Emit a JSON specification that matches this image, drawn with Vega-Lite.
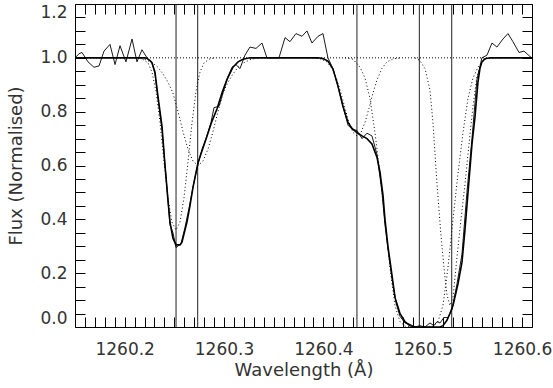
{
  "$schema": "https://vega.github.io/schema/vega-lite/v6.json",
  "width": 457,
  "height": 323,
  "autosize": {"type": "none"},
  "padding": {"left": 75, "top": 4, "right": 21, "bottom": 61},
  "background": "white",
  "config": {
    "view": {"stroke": null},
    "axis": {
      "labelFont": "DejaVu Sans", "titleFont": "DejaVu Sans",
      "labelFontSize": 17, "titleFontSize": 18, "titleFontWeight": "normal",
      "labelColor": "#333", "titleColor": "#333",
      "domainColor": "#000", "tickColor": "#000", "domainWidth": 1, "tickWidth": 1,
      "grid": false, "labelFlush": false, "labelOverlap": false
    }
  },
  "datasets": {
    "obs": [
      {"w":1260.1500,"f":1.0},{"w":1260.1540,"f":1.015},{"w":1260.1570,"f":1.02},{"w":1260.1631,"f":0.985},
      {"w":1260.1691,"f":0.965},{"w":1260.1742,"f":0.97},{"w":1260.1792,"f":1.025},{"w":1260.1852,"f":1.05},
      {"w":1260.1903,"f":0.975},{"w":1260.1953,"f":1.045},{"w":1260.2013,"f":0.985},{"w":1260.2074,"f":1.07},
      {"w":1260.2124,"f":0.985},{"w":1260.2174,"f":1.03},{"w":1260.2225,"f":1.0},{"w":1260.2275,"f":0.98},
      {"w":1260.2305,"f":0.94},{"w":1260.2335,"f":0.85},{"w":1260.2376,"f":0.73},{"w":1260.2416,"f":0.56},
      {"w":1260.2456,"f":0.38},{"w":1260.2486,"f":0.35},{"w":1260.2517,"f":0.295},{"w":1260.2567,"f":0.31},
      {"w":1260.2607,"f":0.37},{"w":1260.2647,"f":0.44},{"w":1260.2688,"f":0.52},{"w":1260.2728,"f":0.59},
      {"w":1260.2778,"f":0.66},{"w":1260.2819,"f":0.70},{"w":1260.2869,"f":0.76},{"w":1260.2899,"f":0.815},
      {"w":1260.2949,"f":0.82},{"w":1260.2990,"f":0.87},{"w":1260.3040,"f":0.93},{"w":1260.3080,"f":0.965},
      {"w":1260.3120,"f":0.975},{"w":1260.3161,"f":0.96},{"w":1260.3211,"f":1.01},{"w":1260.3261,"f":1.04},
      {"w":1260.3322,"f":1.035},{"w":1260.3382,"f":1.055},{"w":1260.3432,"f":1.0},{"w":1260.3493,"f":1.0},
      {"w":1260.3553,"f":1.0},{"w":1260.3614,"f":1.075},{"w":1260.3664,"f":1.06},{"w":1260.3724,"f":1.09},
      {"w":1260.3785,"f":1.08},{"w":1260.3835,"f":1.10},{"w":1260.3885,"f":1.055},{"w":1260.3946,"f":1.08},
      {"w":1260.3996,"f":1.09},{"w":1260.4046,"f":1.0},{"w":1260.4097,"f":0.96},{"w":1260.4147,"f":0.895},
      {"w":1260.4197,"f":0.82},{"w":1260.4248,"f":0.75},{"w":1260.4288,"f":0.735},{"w":1260.4338,"f":0.73},
      {"w":1260.4389,"f":0.70},{"w":1260.4439,"f":0.72},{"w":1260.4489,"f":0.71},{"w":1260.4540,"f":0.64},
      {"w":1260.4590,"f":0.50},{"w":1260.4620,"f":0.38},{"w":1260.4650,"f":0.29},{"w":1260.4691,"f":0.18},
      {"w":1260.4731,"f":0.09},{"w":1260.4771,"f":0.04},{"w":1260.4821,"f":0.015},{"w":1260.4872,"f":0.01},
      {"w":1260.4922,"f":0.0},{"w":1260.4972,"f":0.005},{"w":1260.5023,"f":0.0},{"w":1260.5073,"f":0.015},
      {"w":1260.5113,"f":0.005},{"w":1260.5144,"f":0.02},{"w":1260.5174,"f":0.015},{"w":1260.5214,"f":0.035},
      {"w":1260.5254,"f":0.035},{"w":1260.5294,"f":0.065},{"w":1260.5345,"f":0.16},{"w":1260.5395,"f":0.27},
      {"w":1260.5445,"f":0.50},{"w":1260.5496,"f":0.70},{"w":1260.5546,"f":0.92},{"w":1260.5596,"f":1.0},
      {"w":1260.5647,"f":1.01},{"w":1260.5697,"f":1.055},{"w":1260.5747,"f":1.04},{"w":1260.5808,"f":1.07},
      {"w":1260.5858,"f":1.09},{"w":1260.5908,"f":1.06},{"w":1260.5969,"f":1.02},{"w":1260.6019,"f":1.025},
      {"w":1260.6080,"f":1.005},{"w":1260.6100,"f":1.0}
    ],
    "fit": [
      {"w":1260.1500,"f":1.0},{"w":1260.2205,"f":1.0},{"w":1260.2225,"f":0.998},{"w":1260.2255,"f":0.99},
      {"w":1260.2275,"f":0.982},{"w":1260.2305,"f":0.947},{"w":1260.2335,"f":0.857},{"w":1260.2376,"f":0.745},
      {"w":1260.2406,"f":0.60},{"w":1260.2436,"f":0.47},{"w":1260.2456,"f":0.39},{"w":1260.2486,"f":0.33},
      {"w":1260.2517,"f":0.305},{"w":1260.2557,"f":0.305},{"w":1260.2577,"f":0.315},{"w":1260.2607,"f":0.36},
      {"w":1260.2627,"f":0.39},{"w":1260.2657,"f":0.45},{"w":1260.2688,"f":0.52},{"w":1260.2738,"f":0.61},
      {"w":1260.2788,"f":0.665},{"w":1260.2829,"f":0.71},{"w":1260.2879,"f":0.765},{"w":1260.2929,"f":0.81},
      {"w":1260.2980,"f":0.87},{"w":1260.3030,"f":0.92},{"w":1260.3090,"f":0.965},{"w":1260.3141,"f":0.985},
      {"w":1260.3191,"f":0.995},{"w":1260.3261,"f":1.0},{"w":1260.3946,"f":1.0},{"w":1260.3996,"f":0.997},
      {"w":1260.4046,"f":0.988},{"w":1260.4097,"f":0.958},{"w":1260.4147,"f":0.895},{"w":1260.4197,"f":0.82},
      {"w":1260.4248,"f":0.76},{"w":1260.4288,"f":0.738},{"w":1260.4338,"f":0.722},{"w":1260.4389,"f":0.71},
      {"w":1260.4439,"f":0.70},{"w":1260.4489,"f":0.68},{"w":1260.4540,"f":0.63},{"w":1260.4570,"f":0.575},
      {"w":1260.4600,"f":0.49},{"w":1260.4620,"f":0.40},{"w":1260.4650,"f":0.30},{"w":1260.4671,"f":0.245},
      {"w":1260.4721,"f":0.11},{"w":1260.4771,"f":0.05},{"w":1260.4821,"f":0.02},{"w":1260.4872,"f":0.005},
      {"w":1260.4922,"f":0.0},{"w":1260.5174,"f":0.0},{"w":1260.5204,"f":0.005},{"w":1260.5244,"f":0.025},
      {"w":1260.5274,"f":0.05},{"w":1260.5305,"f":0.08},{"w":1260.5355,"f":0.16},{"w":1260.5395,"f":0.24},
      {"w":1260.5425,"f":0.36},{"w":1260.5456,"f":0.50},{"w":1260.5496,"f":0.68},{"w":1260.5526,"f":0.78},
      {"w":1260.5556,"f":0.91},{"w":1260.5576,"f":0.96},{"w":1260.5596,"f":0.985},{"w":1260.5627,"f":0.997},
      {"w":1260.5677,"f":1.0},{"w":1260.6100,"f":1.0}
    ],
    "comp": [
      {"c":"c1","w":1260.2114,"f":1.0},{"c":"c1","w":1260.2174,"f":0.997},{"c":"c1","w":1260.2235,"f":0.981},
      {"c":"c1","w":1260.2275,"f":0.947},{"c":"c1","w":1260.2315,"f":0.876},{"c":"c1","w":1260.2356,"f":0.759},
      {"c":"c1","w":1260.2396,"f":0.613},{"c":"c1","w":1260.2436,"f":0.479},{"c":"c1","w":1260.2476,"f":0.39},
      {"c":"c1","w":1260.2517,"f":0.36},{"c":"c1","w":1260.2557,"f":0.39},{"c":"c1","w":1260.2597,"f":0.479},
      {"c":"c1","w":1260.2637,"f":0.613},{"c":"c1","w":1260.2678,"f":0.759},{"c":"c1","w":1260.2718,"f":0.876},
      {"c":"c1","w":1260.2758,"f":0.947},{"c":"c1","w":1260.2798,"f":0.981},{"c":"c1","w":1260.2859,"f":0.997},
      {"c":"c1","w":1260.2919,"f":1.0},
      {"c":"c2","w":1260.2134,"f":1.0},{"c":"c2","w":1260.2215,"f":0.993},{"c":"c2","w":1260.2285,"f":0.98},
      {"c":"c2","w":1260.2335,"f":0.965},{"c":"c2","w":1260.2386,"f":0.94},{"c":"c2","w":1260.2436,"f":0.91},
      {"c":"c2","w":1260.2486,"f":0.869},{"c":"c2","w":1260.2537,"f":0.80},{"c":"c2","w":1260.2587,"f":0.726},
      {"c":"c2","w":1260.2637,"f":0.661},{"c":"c2","w":1260.2688,"f":0.616},{"c":"c2","w":1260.2738,"f":0.60},
      {"c":"c2","w":1260.2788,"f":0.616},{"c":"c2","w":1260.2839,"f":0.661},{"c":"c2","w":1260.2889,"f":0.726},
      {"c":"c2","w":1260.2939,"f":0.80},{"c":"c2","w":1260.2990,"f":0.869},{"c":"c2","w":1260.3040,"f":0.91},
      {"c":"c2","w":1260.3090,"f":0.94},{"c":"c2","w":1260.3141,"f":0.965},{"c":"c2","w":1260.3191,"f":0.98},
      {"c":"c2","w":1260.3261,"f":0.993},{"c":"c2","w":1260.3342,"f":1.0},
      {"c":"c3","w":1260.3895,"f":1.0},{"c":"c3","w":1260.3976,"f":0.996},{"c":"c3","w":1260.4036,"f":0.985},
      {"c":"c3","w":1260.4087,"f":0.961},{"c":"c3","w":1260.4137,"f":0.918},{"c":"c3","w":1260.4177,"f":0.869},
      {"c":"c3","w":1260.4218,"f":0.812},{"c":"c3","w":1260.4258,"f":0.760},{"c":"c3","w":1260.4298,"f":0.723},
      {"c":"c3","w":1260.4338,"f":0.710},{"c":"c3","w":1260.4379,"f":0.723},{"c":"c3","w":1260.4419,"f":0.760},
      {"c":"c3","w":1260.4459,"f":0.812},{"c":"c3","w":1260.4499,"f":0.869},{"c":"c3","w":1260.4540,"f":0.918},
      {"c":"c3","w":1260.4590,"f":0.961},{"c":"c3","w":1260.4640,"f":0.985},{"c":"c3","w":1260.4701,"f":0.996},
      {"c":"c3","w":1260.4781,"f":1.0},
      {"c":"c4","w":1260.4218,"f":1.0},{"c":"c4","w":1260.4298,"f":0.995},{"c":"c4","w":1260.4369,"f":0.965},
      {"c":"c4","w":1260.4419,"f":0.925},{"c":"c4","w":1260.4469,"f":0.85},{"c":"c4","w":1260.4520,"f":0.72},
      {"c":"c4","w":1260.4570,"f":0.57},{"c":"c4","w":1260.4620,"f":0.40},{"c":"c4","w":1260.4670,"f":0.22},
      {"c":"c4","w":1260.4721,"f":0.08},{"c":"c4","w":1260.4771,"f":0.02},{"c":"c4","w":1260.4821,"f":0.003},
      {"c":"c4","w":1260.4872,"f":0.0},{"c":"c4","w":1260.5053,"f":0.0},{"c":"c4","w":1260.5103,"f":0.003},
      {"c":"c4","w":1260.5154,"f":0.02},{"c":"c4","w":1260.5204,"f":0.08},{"c":"c4","w":1260.5254,"f":0.22},
      {"c":"c4","w":1260.5305,"f":0.40},{"c":"c4","w":1260.5355,"f":0.57},{"c":"c4","w":1260.5405,"f":0.72},
      {"c":"c4","w":1260.5456,"f":0.85},{"c":"c4","w":1260.5506,"f":0.925},{"c":"c4","w":1260.5556,"f":0.965},
      {"c":"c4","w":1260.5627,"f":0.995},{"c":"c4","w":1260.5707,"f":1.0},
      {"c":"c5","w":1260.4922,"f":1.0},{"c":"c5","w":1260.4972,"f":0.99},{"c":"c5","w":1260.5023,"f":0.96},
      {"c":"c5","w":1260.5073,"f":0.88},{"c":"c5","w":1260.5103,"f":0.76},{"c":"c5","w":1260.5144,"f":0.53},
      {"c":"c5","w":1260.5184,"f":0.34},{"c":"c5","w":1260.5214,"f":0.22},{"c":"c5","w":1260.5244,"f":0.12},
      {"c":"c5","w":1260.5274,"f":0.08},{"c":"c5","w":1260.5305,"f":0.11},{"c":"c5","w":1260.5345,"f":0.26},
      {"c":"c5","w":1260.5385,"f":0.40},{"c":"c5","w":1260.5425,"f":0.53},{"c":"c5","w":1260.5466,"f":0.68},
      {"c":"c5","w":1260.5506,"f":0.82},{"c":"c5","w":1260.5546,"f":0.93},{"c":"c5","w":1260.5586,"f":0.98},
      {"c":"c5","w":1260.5637,"f":1.0}
    ],
    "vlines": [
      {"w":1260.2517},{"w":1260.2735},{"w":1260.4338},{"w":1260.4966},{"w":1260.5292}
    ]
  },
  "resolve": {"axis": {"x": "independent", "y": "independent"}},
  "layer": [
    {
      "data": {"name": "vlines"},
      "mark": {"type": "rule", "color": "#222", "strokeWidth": 1},
      "encoding": {
        "x": {"field": "w", "type": "quantitative", "scale": {"domain": [1260.15, 1260.61], "nice": false, "zero": false},
          "axis": {"orient": "top", "values": [1260.16,1260.17,1260.18,1260.19,1260.2,1260.21,1260.22,1260.23,1260.24,1260.25,1260.26,1260.27,1260.28,1260.29,1260.3,1260.31,1260.32,1260.33,1260.34,1260.35,1260.36,1260.37,1260.38,1260.39,1260.4,1260.41,1260.42,1260.43,1260.44,1260.45,1260.46,1260.47,1260.48,1260.49,1260.5,1260.51,1260.52,1260.53,1260.54,1260.55,1260.56,1260.57,1260.58,1260.59,1260.6],
            "labels": false, "title": null, "tickSize": -10,
            "encode": {"ticks": {"update": {"y2": {"signal": "abs(round(datum.value*10)-datum.value*10)<0.001 ? 10 : 5"}}}}}}
      }
    },
    {
      "data": {"values": [{"f": 1}]},
      "mark": {"type": "rule", "color": "#000", "strokeWidth": 1, "strokeDash": [1, 2]},
      "encoding": {
        "y": {"field": "f", "type": "quantitative", "scale": {"domain": [0, 1.2], "nice": false, "zero": false},
          "axis": {"orient": "right", "values": [0,0.05,0.1,0.15,0.2,0.25,0.3,0.35,0.4,0.45,0.5,0.55,0.6,0.65,0.7,0.75,0.8,0.85,0.9,0.95,1,1.05,1.1,1.15,1.2],
            "labels": false, "title": null, "tickSize": -10,
            "encode": {"ticks": {"update": {"x2": {"signal": "abs(round(datum.value*5)-datum.value*5)<0.001 ? -10 : -5"}}}}}}
      }
    },
    {
      "data": {"name": "comp"},
      "mark": {"type": "line", "color": "#000", "strokeWidth": 1, "strokeDash": [1, 2.5], "clip": true},
      "encoding": {
        "x": {"field": "w", "type": "quantitative", "axis": null},
        "y": {"field": "f", "type": "quantitative", "axis": null},
        "detail": {"field": "c"}
      }
    },
    {
      "data": {"name": "fit"},
      "mark": {"type": "line", "color": "#000", "strokeWidth": 1.6, "clip": true},
      "encoding": {
        "x": {"field": "w", "type": "quantitative", "axis": null},
        "y": {"field": "f", "type": "quantitative", "axis": null}
      }
    },
    {
      "data": {"name": "obs"},
      "mark": {"type": "line", "color": "#000", "strokeWidth": 0.9, "clip": true},
      "encoding": {
        "x": {"field": "w", "type": "quantitative",
          "axis": {"orient": "bottom", "values": [1260.16,1260.17,1260.18,1260.19,1260.2,1260.21,1260.22,1260.23,1260.24,1260.25,1260.26,1260.27,1260.28,1260.29,1260.3,1260.31,1260.32,1260.33,1260.34,1260.35,1260.36,1260.37,1260.38,1260.39,1260.4,1260.41,1260.42,1260.43,1260.44,1260.45,1260.46,1260.47,1260.48,1260.49,1260.5,1260.51,1260.52,1260.53,1260.54,1260.55,1260.56,1260.57,1260.58,1260.59,1260.6],
            "labelExpr": "abs(round(datum.value*10)-datum.value*10)<0.001 ? format(datum.value, '.1f') : ''",
            "tickSize": -10,
            "encode": {"ticks": {"update": {"y2": {"signal": "abs(round(datum.value*10)-datum.value*10)<0.001 ? -10 : -5"}}}},
            "labelPadding": 24, "title": "Wavelength (Å)", "titlePadding": 4}},
        "y": {"field": "f", "type": "quantitative",
          "axis": {"orient": "left", "values": [0,0.05,0.1,0.15,0.2,0.25,0.3,0.35,0.4,0.45,0.5,0.55,0.6,0.65,0.7,0.75,0.8,0.85,0.9,0.95,1,1.05,1.1,1.15,1.2],
            "labelExpr": "abs(round(datum.value*5)-datum.value*5)<0.001 ? format(datum.value, '.1f') : ''",
            "tickSize": -10,
            "encode": {"ticks": {"update": {"x2": {"signal": "abs(round(datum.value*5)-datum.value*5)<0.001 ? 10 : 5"}}}},
            "labelFlush": true,
            "labelPadding": 18, "title": "Flux (Normalised)", "titlePadding": 14}}
      }
    }
  ]
}
